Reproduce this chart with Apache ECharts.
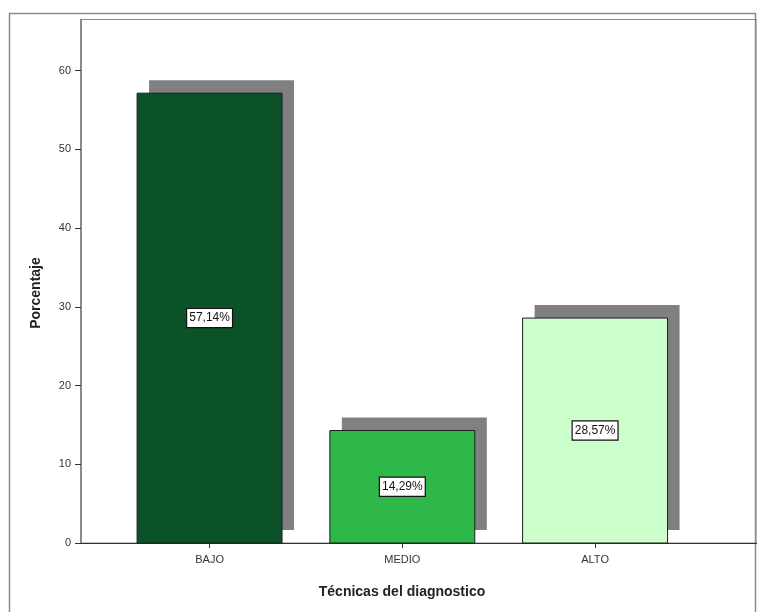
<!DOCTYPE html>
<html>
<head>
<meta charset="utf-8">
<script src="https://cdn.jsdelivr.net/npm/echarts@6/dist/echarts.min.js"></script>
<style>
  html, body { margin: 0; padding: 0; background: #fff; }
  #chart { width: 757px; height: 612px; }
</style>
</head>
<body>
<div id="chart"></div>
<script>
// Distribution of diagnostic technique levels (percent)
const categories = ['BAJO', 'MEDIO', 'ALTO'];
const percentages = [57.14, 14.29, 28.57];
const yTicks = [0, 10, 20, 30, 40, 50, 60];

const barColors = ['#0b5229', '#2eb84a', '#ccffcc'];
const shadowColor = '#808080';
const FONT = '"Liberation Sans", Arial, sans-serif';

function fmtPct(v) {
  return v.toFixed(2).replace('.', ',') + '%';
}

const chart = echarts.init(document.getElementById('chart'), null, { renderer: 'canvas' });

const option = {
  animation: false,
  backgroundColor: '#ffffff',
  grid: {
    left: 81, right: 0, top: 19.5, bottom: 69,
    show: true, borderColor: '#8a8a8a', borderWidth: 1, backgroundColor: 'transparent'
  },
  xAxis: {
    type: 'value',
    min: -0.667,
    max: 2.84,
    splitLine: { show: false },
    axisLine: { show: true, onZero: false, lineStyle: { color: '#333', width: 1 } },
    axisTick: {
      show: true, customValues: categories.map((c, i) => i),
      length: 5, lineStyle: { color: '#333' }
    },
    axisLabel: {
      customValues: categories.map((c, i) => i),
      formatter: v => categories[Math.round(v)] || '',
      color: '#333', fontSize: 11, fontFamily: FONT, margin: 11
    }
  },
  yAxis: {
    type: 'value',
    min: 0,
    max: 66.5,
    interval: 10,
    splitLine: { show: false },
    axisLine: { show: true, onZero: false, lineStyle: { color: '#8a8a8a', width: 2 } },
    axisTick: { show: true, length: 6, lineStyle: { color: '#333' } },
    axisLabel: {
      color: '#333', fontSize: 11, fontFamily: FONT, margin: 10,
      showMaxLabel: false,
      formatter: v => (yTicks.indexOf(v) >= 0 ? String(v) : '')
    }
  },
  series: [{
    type: 'custom',
    data: percentages.map((v, i) => [i, v]),
    encode: { x: 0, y: 1 },
    clip: false,
    renderItem: function (params, api) {
      const idx = api.value(0);
      const val = api.value(1);
      const half = 0.376;
      const tl = api.coord([idx - half, val]);
      const br = api.coord([idx + half, 0]);
      const x = tl[0], y = tl[1];
      const w = br[0] - tl[0], h = br[1] - tl[1];
      const dx = 12, dy = -13;
      return {
        type: 'group',
        children: [
          {
            type: 'rect',
            shape: { x: x + dx, y: y + dy, width: w, height: h },
            style: { fill: shadowColor, stroke: null }
          },
          {
            type: 'rect',
            shape: { x: x, y: y, width: w, height: h },
            style: { fill: barColors[idx], stroke: '#1e1e1e', lineWidth: 1 }
          },
          {
            type: 'text',
            x: x + w / 2,
            y: y + h / 2,
            style: {
              text: fmtPct(val),
              align: 'center',
              verticalAlign: 'middle',
              fill: '#111',
              font: '12px ' + FONT,
              backgroundColor: '#ffffff',
              borderColor: '#111',
              borderWidth: 1.2,
              padding: [3, 2, 3, 2]
            }
          }
        ]
      };
    }
  }],
  graphic: [
    {
      type: 'rect',
      z: -10,
      shape: { x: 9.5, y: 13.5, width: 746, height: 700 },
      style: { fill: null, stroke: '#8a8a8a', lineWidth: 1.5 },
      silent: true
    },
    {
      type: 'text',
      x: 402, y: 592,
      style: {
        text: 'Técnicas del diagnostico',
        align: 'center', verticalAlign: 'middle',
        font: 'bold 14px ' + FONT, fill: '#222'
      }
    },
    {
      type: 'text',
      x: 36, y: 293,
      rotation: Math.PI / 2,
      style: {
        text: 'Porcentaje',
        align: 'center', verticalAlign: 'middle',
        font: 'bold 14px ' + FONT, fill: '#222'
      }
    }
  ]
};

chart.setOption(option);
</script>
</body>
</html>
